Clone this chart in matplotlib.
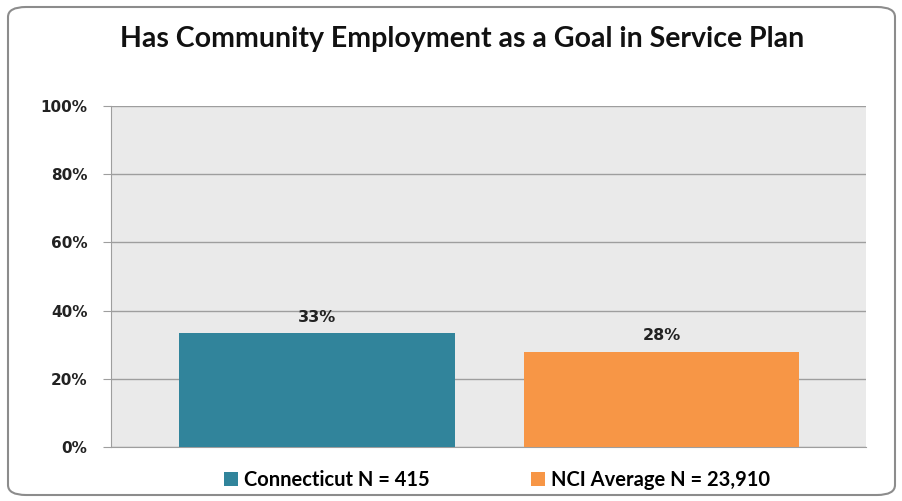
import matplotlib
matplotlib.use("Agg")
import matplotlib.pyplot as plt
from matplotlib.patches import FancyBboxPatch, Patch

title = "Has Community Employment as a Goal in Service Plan"
series = ["Connecticut N = 415", "NCI Average N = 23,910"]
values = [33.3, 28.0]
labels = ["33%", "28%"]
colors = ["#31849B", "#F79646"]
yticks = [0, 20, 40, 60, 80, 100]
yticklabels = ["0%", "20%", "40%", "60%", "80%", "100%"]

plt.rcParams['font.family'] = ['Lato', 'DejaVu Sans']

W, H = 903, 501
fig = plt.figure(figsize=(W/100, H/100), dpi=100)
fig.patch.set_facecolor("white")

border = FancyBboxPatch((8/W, 6/H), (895-8)/W, (494-6)/H,
                        boxstyle="round,pad=0,rounding_size=0.02",
                        transform=fig.transFigure, facecolor="none",
                        edgecolor="#8C8C8C", linewidth=1.5, zorder=5)
fig.patches.append(border)

x0, x1 = 111, 866
y_top, y_bot = 106, 447
ax = fig.add_axes([x0/W, 1 - y_bot/H, (x1-x0)/W, (y_bot-y_top)/H])
ax.set_facecolor("#EAEAEA")

xs = [0, 1]
bars = ax.bar(xs, values, width=0.80, color=colors, zorder=3)
for x, v, lab in zip(xs, values, labels):
    ax.text(x, v + 2.5, lab, ha="center", va="bottom", fontsize=11.5,
            fontweight="bold", color="#222222", family="DejaVu Sans")

ax.set_xlim(-0.598, 1.594)
ax.set_ylim(0, 100)
ax.set_yticks(yticks)
ax.set_yticklabels(yticklabels, fontsize=11, fontweight="bold",
                   family="DejaVu Sans", color="#222222")
ax.set_xticks([])
ax.yaxis.grid(True, color="#9E9E9E", linewidth=1.0, zorder=1)
for s in ["top", "right"]:
    ax.spines[s].set_visible(False)
ax.spines["left"].set_color("#9E9E9E")
ax.spines["bottom"].set_color("#9E9E9E")
ax.tick_params(axis="y", length=6, color="#9E9E9E", pad=11)

fig.text(462/W, 1 - 39/H, title, ha="center", va="center",
         fontsize=20.5, fontweight="bold", color="#111111")

handles = [Patch(facecolor=c) for c in colors]
fig.legend(handles, series, loc="center", bbox_to_anchor=(497/W, 1 - 480/H),
           ncol=2, frameon=False, prop={"size": 14.5, "weight": "bold"},
           handlelength=0.7, handleheight=0.7, handletextpad=0.3,
           columnspacing=5.0)

fig.savefig("out.png", dpi=100)
